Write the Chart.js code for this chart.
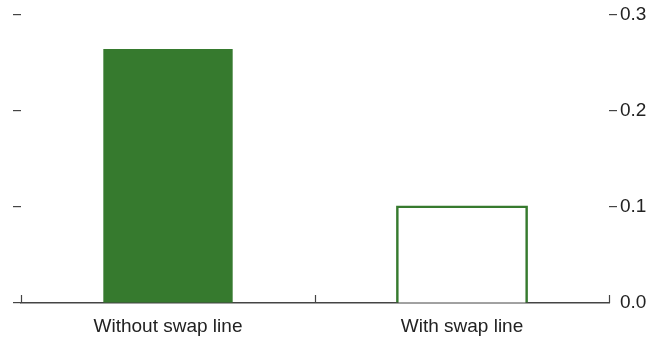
<!DOCTYPE html>
<html>
<head>
<meta charset="utf-8">
<script src="https://cdn.jsdelivr.net/npm/chart.js@4.4.1/dist/chart.umd.min.js"></script>
<style>
  html, body { margin: 0; padding: 0; background: #ffffff; }
  #wrap { width: 662px; height: 337px; }
</style>
</head>
<body>
<div id="wrap"><canvas id="c" width="662" height="337"></canvas></div>
<script>
// Categories and values
const categories = ['Without swap line', 'With swap line'];
const values = [0.264, 0.1];
const yTicks = [0.0, 0.1, 0.2, 0.3];

const GREEN = '#367a2e';
const AXIS = '#444444';
const TEXT = '#222222';
const FONT = "'Liberation Sans', Arial, sans-serif";

// Short upward tick marks at the category boundaries of the x axis
const categoryTicks = {
  id: 'categoryTicks',
  afterDatasetsDraw(chart) {
    const x = chart.scales.x;
    const y = chart.scales.y;
    const ctx = chart.ctx;
    const n = categories.length;
    const half = (x.getPixelForValue(1) - x.getPixelForValue(0)) / 2;
    const base = y.getPixelForValue(0);
    ctx.save();
    ctx.strokeStyle = AXIS;
    ctx.lineWidth = 1.2;
    ctx.beginPath();
    for (let i = 0; i <= n; i++) {
      const px = i < n ? x.getPixelForValue(i) - half : x.getPixelForValue(n - 1) + half;
      ctx.moveTo(Math.round(px) + 0.5, base);
      ctx.lineTo(Math.round(px) + 0.5, base - 8);
    }
    ctx.stroke();
    ctx.restore();
  }
};

new Chart(document.getElementById('c'), {
  type: 'bar',
  data: {
    labels: categories,
    datasets: [{
      data: values,
      backgroundColor: [GREEN, '#ffffff'],
      borderColor: GREEN,
      borderWidth: [0, 2.5],
      // let the outline straddle the bar edge instead of sitting inside it
      inflateAmount: ctx => (ctx.dataIndex === 1 ? 1.25 : 'auto'),
      categoryPercentage: 1.0,
      barPercentage: 0.44
    }]
  },
  options: {
    responsive: false,
    animation: false,
    layout: { padding: { left: 13, right: 0, top: 3, bottom: 0 } },
    plugins: { legend: { display: false }, tooltip: { enabled: false } },
    scales: {
      x: {
        grid: { display: false, drawTicks: false },
        border: { display: true, color: AXIS, width: 1.5 },
        ticks: { color: TEXT, font: { family: FONT, size: 19 }, padding: 12 },
        afterFit(scale) { scale.height = 34; }
      },
      y: {
        position: 'right',
        min: 0, max: 0.3,
        afterBuildTicks(scale) { scale.ticks = yTicks.map(v => ({ value: v })); },
        grid: {
          drawOnChartArea: false,
          drawTicks: true,
          tickLength: 8,
          color: ctx => (ctx.tick && ctx.tick.value === 0 ? 'rgba(0,0,0,0)' : AXIS),
          lineWidth: 1.2
        },
        border: { display: false },
        ticks: {
          color: TEXT, font: { family: FONT, size: 19 }, padding: 3,
          callback: v => Number(v).toFixed(1)
        },
        afterFit(scale) { scale.width = 53; }
      },
      yLeft: {
        position: 'left',
        min: 0, max: 0.3,
        afterBuildTicks(scale) { scale.ticks = yTicks.map(v => ({ value: v })); },
        grid: {
          drawOnChartArea: false,
          drawTicks: true,
          tickLength: 8,
          color: AXIS,
          lineWidth: 1.2
        },
        border: { display: false },
        ticks: { display: false }
      }
    }
  },
  plugins: [categoryTicks]
});
</script>
</body>
</html>
